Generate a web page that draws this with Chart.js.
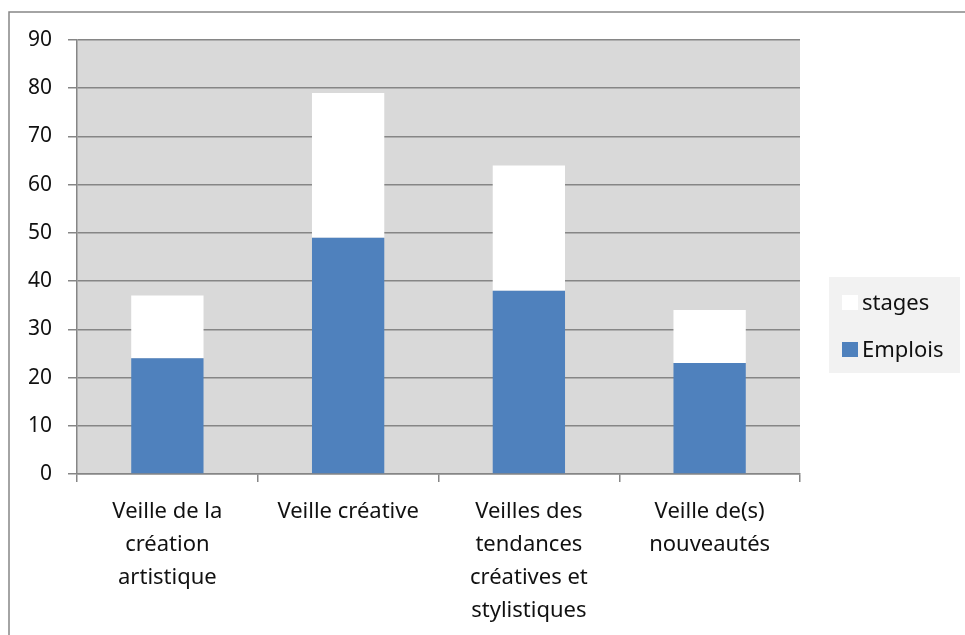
<!DOCTYPE html>
<html>
<head>
<meta charset="utf-8">
<script src="https://cdn.jsdelivr.net/npm/chart.js@4/dist/chart.umd.min.js"></script>
<style>
  html, body { margin: 0; padding: 0; background: #fff; }
  #wrap { width: 965px; height: 635px; position: relative; }
</style>
</head>
<body>
<div id="wrap"><canvas id="myChart" width="965" height="635"></canvas></div>
<script>
// categories (multi-line labels as in the original)
const categories = [
  ["Veille de la", "création", "artistique"],
  ["Veille créative"],
  ["Veilles des", "tendances", "créatives et", "stylistiques"],
  ["Veille de(s)", "nouveautés"]
];
const emplois = [24, 49, 38, 23];
const stages = [13, 30, 26, 11];
const yTicks = [0, 10, 20, 30, 40, 50, 60, 70, 80, 90];

const FONT = "'Noto Sans', 'DejaVu Sans', sans-serif";
const GRID = "#868686";

// plot background, outer frame and the grey legend box
const decor = {
  id: "decor",
  beforeDraw(chart) {
    const c = chart.ctx, a = chart.chartArea;
    c.save();
    c.fillStyle = "#D9D9D9";
    c.fillRect(a.left, a.top, a.right - a.left, a.bottom - a.top);
    c.strokeStyle = GRID;
    c.lineWidth = 1.5;
    c.beginPath();
    c.moveTo(9, 635);
    c.lineTo(9, 12);
    c.lineTo(965, 12);
    c.stroke();
    c.restore();
  },
  afterDraw(chart) {
    const c = chart.ctx;
    c.save();
    c.fillStyle = "#F2F2F2";
    c.fillRect(829, 277, 131, 96);
    // legend entries, stages first
    const items = chart.data.datasets.slice().reverse();
    items.forEach((ds, i) => {
      const y = 302.5 + i * 47;
      c.fillStyle = ds.backgroundColor;
      c.fillRect(842, y - 7.5, 16, 15);
      c.fillStyle = "#111";
      c.font = "22px " + FONT;
      c.textBaseline = "alphabetic";
      c.textAlign = "left";
      c.fillText(ds.label, 862, y + 7.5);
    });
    c.restore();
  }
};

const ctx = document.getElementById("myChart").getContext("2d");

const myChart = new Chart(ctx, {
  type: "bar",
  data: {
    labels: categories,
    datasets: [
      {
        label: "Emplois",
        data: emplois,
        backgroundColor: "#4F81BD",
        borderWidth: 0,
        barPercentage: 0.4,
        categoryPercentage: 1,
      },
      {
        label: "stages",
        data: stages,
        backgroundColor: "#FFFFFF",
        borderWidth: 0,
        barPercentage: 0.4,
        categoryPercentage: 1,
      },
    ],
  },
  options: {
    responsive: false,
    animation: false,
    layout: { padding: { left: 15, top: 40, right: 165, bottom: 0 } },
    plugins: {
      legend: { display: false },
      tooltip: { enabled: false },
    },
    scales: {
      x: {
        stacked: true,
        grid: { drawOnChartArea: false, drawTicks: true, tickLength: 8, color: GRID, lineWidth: 1.5 },
        border: { color: GRID, width: 1.5 },
        ticks: {
          maxRotation: 0,
          autoSkip: false,
          padding: 13,
          color: "#111",
          font: { family: FONT, size: 22, lineHeight: 1.5 },
        },
        afterFit(s) { s.height = 161; },
      },
      y: {
        stacked: true,
        min: 0,
        max: 90,
        afterBuildTicks(s) { s.ticks = yTicks.map(v => ({ value: v })); },
        grid: { color: GRID, lineWidth: 1.5, tickLength: 9 },
        border: { color: GRID, width: 1.5 },
        ticks: {
          padding: 16,
          color: "#111",
          font: { family: FONT, size: 21 },
        },
        afterFit(s) { s.width = 62; },
      },
    },
  },
  plugins: [decor],
});
</script>
</body>
</html>
